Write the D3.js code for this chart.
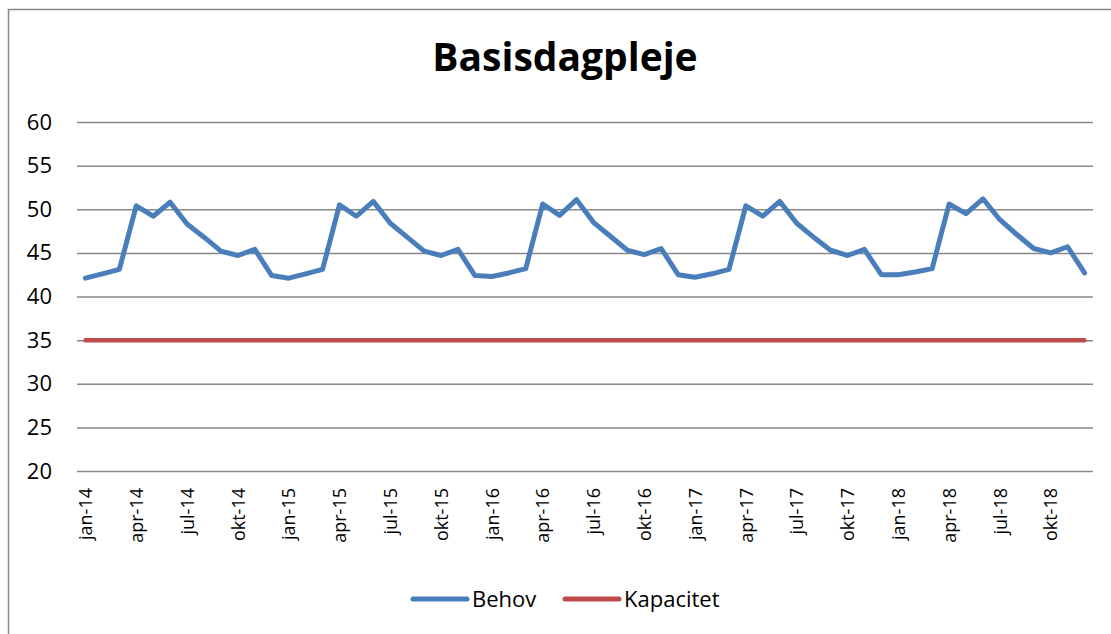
<!DOCTYPE html>
<html>
<head>
<meta charset="utf-8">
<script src="https://cdn.jsdelivr.net/npm/d3@7"></script>
<style>
  body { margin: 0; background: #fff; }
  svg { display: block; font-family: "Open Sans", sans-serif; }
</style>
</head>
<body>
<script>
// month names and years for the category axis
var monthNames = ["jan", "feb", "mar", "apr", "maj", "jun", "jul", "aug", "sep", "okt", "nov", "dec"];
var years = ["14", "15", "16", "17", "18"];

// Behov, one value per month jan-14 .. dec-18
var behov = [
  42.1, 42.6, 43.1, 50.4, 49.2, 50.8, 48.3, 46.8, 45.2, 44.7, 45.4, 42.4,
  42.1, 42.6, 43.1, 50.5, 49.2, 50.9, 48.4, 46.8, 45.2, 44.7, 45.4, 42.4,
  42.3, 42.7, 43.2, 50.6, 49.3, 51.1, 48.5, 46.9, 45.3, 44.8, 45.5, 42.5,
  42.2, 42.6, 43.1, 50.4, 49.2, 50.9, 48.4, 46.8, 45.3, 44.7, 45.4, 42.5,
  42.5, 42.8, 43.2, 50.6, 49.5, 51.2, 48.8, 47.1, 45.5, 45.0, 45.7, 42.7
];

// Kapacitet
var kapacitet = [
  35, 35, 35, 35, 35, 35, 35, 35, 35, 35, 35, 35,
  35, 35, 35, 35, 35, 35, 35, 35, 35, 35, 35, 35,
  35, 35, 35, 35, 35, 35, 35, 35, 35, 35, 35, 35,
  35, 35, 35, 35, 35, 35, 35, 35, 35, 35, 35, 35,
  35, 35, 35, 35, 35, 35, 35, 35, 35, 35, 35, 35
];

var yTicks = [20, 25, 30, 35, 40, 45, 50, 55, 60];

var categories = [];
years.forEach(function (y) {
    monthNames.forEach(function (m) {
        categories.push(m + "-" + y);
    });
});

var width = 1111, height = 634;
var plotLeft = 77, plotRight = 1093, plotTop = 122, plotBottom = 471;

var svg = d3.select("body").append("svg")
    .attr("width", width)
    .attr("height", height);

// chart frame
svg.append("rect")
    .attr("x", 8.5).attr("y", 9.5)
    .attr("width", 1120).attr("height", 640)
    .attr("fill", "#fff")
    .attr("stroke", "#888")
    .attr("stroke-width", 1.5);

var x = d3.scalePoint()
    .domain(categories)
    .range([plotLeft, plotRight])
    .padding(0.5);

var y = d3.scaleLinear()
    .domain([20, 60])
    .range([plotBottom, plotTop]);

// title
svg.append("text")
    .attr("x", 565).attr("y", 71)
    .attr("text-anchor", "middle")
    .style("font-size", "39px")
    .style("font-weight", "bold")
    .text("Basisdagpleje");

// y axis with gridlines
var yAxis = svg.append("g")
    .attr("transform", "translate(" + plotLeft + ",0)")
    .call(d3.axisLeft(y).tickValues(yTicks).tickSize(-(plotRight - plotLeft)).tickPadding(25));
yAxis.select(".domain").remove();
yAxis.selectAll(".tick line")
    .attr("stroke", "#888")
    .attr("stroke-width", 1.5);
yAxis.selectAll(".tick text")
    .attr("fill", "#000")
    .style("font-size", "22px")
    .style("font-family", "Open Sans, sans-serif");

// x axis labels, every third month
var xAxis = svg.append("g")
    .attr("transform", "translate(0," + plotBottom + ")")
    .call(d3.axisBottom(x)
        .tickValues(categories.filter(function (d, i) { return i % 3 == 0; }))
        .tickSize(0));
xAxis.select(".domain").remove();
xAxis.selectAll(".tick text")
    .attr("fill", "#000")
    .style("font-size", "18px")
    .style("font-family", "Open Sans, sans-serif")
    .attr("text-anchor", "end")
    .attr("transform", "rotate(-90)")
    .attr("x", -17)
    .attr("y", 0)
    .attr("dy", "0.35em");

var line = d3.line()
    .x(function (d, i) { return x(categories[i]); })
    .y(function (d) { return y(d); });

svg.append("path")
    .datum(kapacitet)
    .attr("d", line)
    .attr("fill", "none")
    .attr("stroke", "#be4b48")
    .attr("stroke-width", 4.5)
    .attr("stroke-linecap", "round");

svg.append("path")
    .datum(behov)
    .attr("d", line)
    .attr("fill", "none")
    .attr("stroke", "#4a7ebb")
    .attr("stroke-width", 5)
    .attr("stroke-linejoin", "round")
    .attr("stroke-linecap", "round");

// legend
var legend = [
    { name: "Behov", color: "#4a7ebb", x: 413 },
    { name: "Kapacitet", color: "#be4b48", x: 565 }
];
var lg = svg.selectAll(".legend")
    .data(legend)
    .enter().append("g")
    .attr("class", "legend")
    .attr("transform", function (d) { return "translate(" + d.x + ",599)"; });
lg.append("line")
    .attr("x1", 0).attr("x2", 54)
    .attr("stroke", function (d) { return d.color; })
    .attr("stroke-width", 5)
    .attr("stroke-linecap", "round");
lg.append("text")
    .attr("x", 59)
    .attr("dy", "0.35em")
    .style("font-size", "22px")
    .text(function (d) { return d.name; });
</script>
</body>
</html>
